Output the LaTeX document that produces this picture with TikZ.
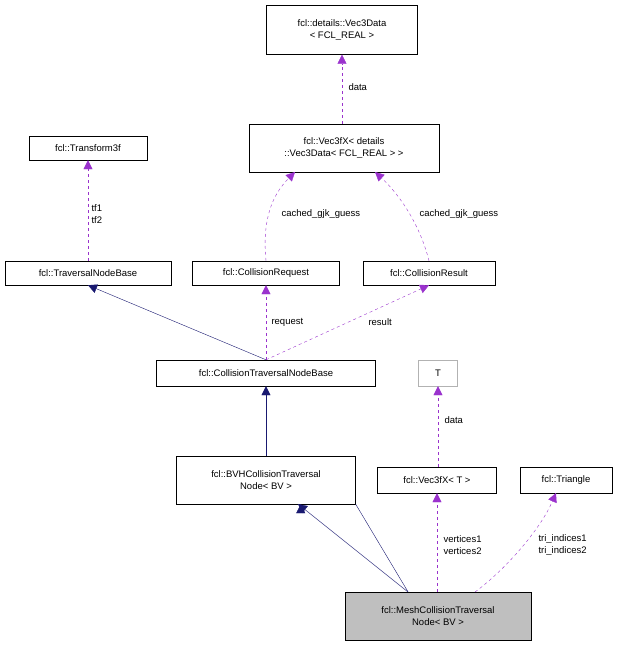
\documentclass[tikz,border=0pt]{standalone}
\usepackage{fontspec}
\setmainfont{Liberation Sans}
\usetikzlibrary{arrows.meta}
\definecolor{dp}{HTML}{9A32CD}
\definecolor{nv}{HTML}{191970}
\begin{document}
\begin{tikzpicture}[x=1pt,y=-1pt,
 box/.style={draw=black,fill=white,inner sep=2pt,align=center,font=\fontsize{9.5}{12}\selectfont,minimum height=24pt},
 use/.style={draw=dp,dashed,-{Triangle[length=9pt,width=9pt]},fill=none},
 inh/.style={draw=nv,-{Triangle[length=9pt,width=9pt,fill=nv]}},
 lab/.style={font=\fontsize{9.5}{12}\selectfont,align=left,anchor=west}]
\useasboundingbox (0,0) rectangle (620,648);
\node[box,minimum width=151pt,minimum height=49pt] (vd) at (342,30) {fcl::details::Vec3Data\\< FCL\_REAL >};
\node[box,minimum width=118pt] (tf) at (88,148) {fcl::Transform3f};
\node[box,minimum width=190pt,minimum height=48pt] (vx) at (344,148) {fcl::Vec3fX< details\\::Vec3Data< FCL\_REAL > >};
\node[box,minimum width=166pt] (tnb) at (88,273) {fcl::TraversalNodeBase};
\node[box,minimum width=147pt] (creq) at (266,273) {fcl::CollisionRequest};
\node[box,minimum width=132pt] (cres) at (429,273) {fcl::CollisionResult};
\node[box,minimum width=219pt,minimum height=26pt] (ctnb) at (266,373) {fcl::CollisionTraversalNodeBase};
\node[box,draw=gray!60,minimum width=39pt,minimum height=26pt] (T) at (438,373) {T};
\node[box,minimum width=179pt,minimum height=48pt] (bvh) at (266,480) {fcl::BVHCollisionTraversal\\Node< BV >};
\node[box,minimum width=119pt,minimum height=26pt] (vt) at (437,480) {fcl::Vec3fX< T >};
\node[box,minimum width=92pt,minimum height=26pt] (tri) at (566,480) {fcl::Triangle};
\node[box,fill=gray!50,minimum width=186pt,minimum height=48pt] (mesh) at (438,616) {fcl::MeshCollisionTraversal\\Node< BV >};

\draw[use] (vx.north -| vd) -- (vd.south);
\node[lab] at (345,87) {data};
\draw[use] (tnb.north) -- (tf.south);
\node[lab] at (88,214) {tf1\\tf2};
\draw[use] (creq.north) .. controls (262,220) and (272,195) .. (295,172);
\node[lab] at (278,214) {cached\_gjk\_guess};
\draw[use] (cres.north) .. controls (420,225) and (400,195) .. (375,172);
\node[lab] at (416,214) {cached\_gjk\_guess};
\draw[inh] (ctnb.north) -- (tnb.south);
\draw[use] (ctnb.north) -- (creq.south);
\node[lab] at (268,322) {request};
\draw[use] (ctnb.north) -- (cres.south);
\node[lab] at (365,322) {result};
\draw[inh] (bvh.north) -- (ctnb.south);
\draw[use] (vt.north -| T) -- (T.south);
\node[lab] at (441,420) {data};
\draw[inh] (mesh.north) ++(-30,0) -- (bvh.south east) ++(-55,0);
\draw[inh] (408,592) -- (298,504);
\draw[use] (mesh.north -| vt) -- (vt.south);
\node[lab] at (440,545) {vertices1\\vertices2};
\draw[use] (475,592) .. controls (505,570) and (540,530) .. (556,493);
\node[lab] at (535,545) {tri\_indices1\\tri\_indices2};
\end{tikzpicture}
\end{document}
